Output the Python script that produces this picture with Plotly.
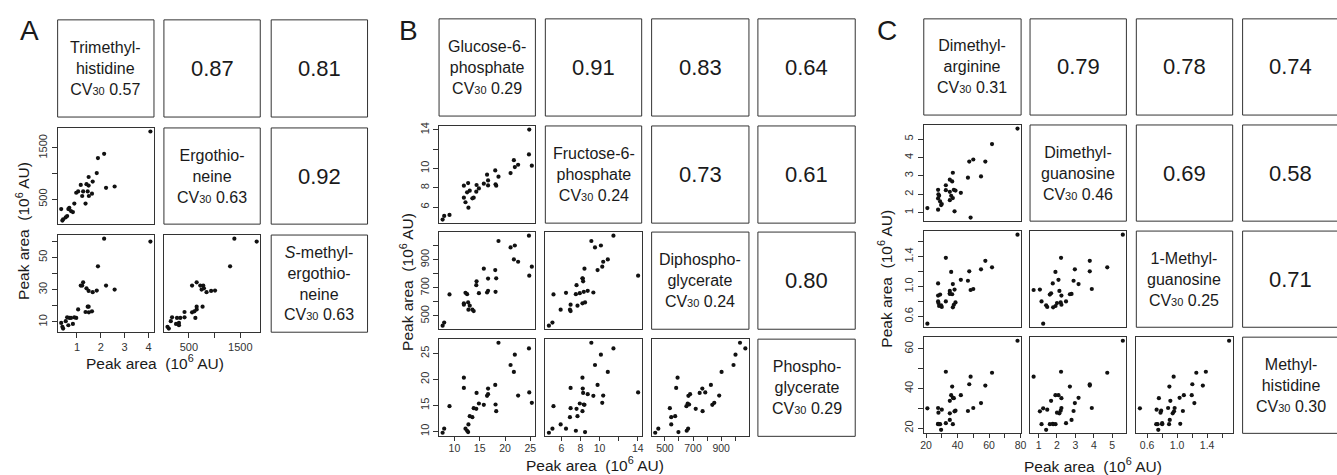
import plotly.graph_objects as go

W, H = 1337, 475
FONT = "Liberation Sans, Arial, Helvetica, sans-serif"
INK = "#1a1a1a"
LINE = "#333333"

# ---------------- Panel A data ----------------
trimethylhistidine = [4.08, 2.14, 1.88, 1.83, 1.49, 1.66, 1.16, 1.40, 1.49, 1.05, 0.97, 1.26, 1.45, 1.22, 1.50,
                      1.63, 2.22, 2.58, 1.36, 0.89, 0.68, 0.64, 0.34, 0.75, 0.83, 0.59, 0.53, 0.42, 0.39]
ergothioneine = [1819, 1385, 1302, 1009, 933, 844, 780, 793, 767, 652, 627, 652, 652, 563, 563,
                 608, 722, 748, 416, 416, 334, 308, 308, 270, 251, 174, 149, 111, 85]
s_methylergothioneine = [59.9, 61.7, 44.5, 29.5, 29.3, 28.5, 32.6, 30.9, 19.5, 17.8, 12.5, 34.6, 19.5, 32.6, 16.0,
                         16.6, 32.6, 30.1, 16.2, 12.9, 12.5, 8.0, 9.4, 12.5, 8.8, 12.9, 10.5, 5.9, 7.0]
a_names = ["Trimethyl-<br>histidine", "Ergothio-<br>neine", "<i>S</i>-methyl-<br>ergothio-<br>neine"]
a_cv = ["0.57", "0.63", "0.63"]
a_corr = [["", "0.87", "0.81"], ["", "", "0.92"], ["", "", ""]]
a_tickvals = [[1, 2, 3, 4], [500, 1500], [10, 30, 50]]
a_ticktext = [["1", "2", "3", "4"], ["500", "1500"], ["10", "30", "50"]]
a_minorvals = [[], [1000], [20, 40, 60]]

# ---------------- Panel B data ----------------
glucose_6_phosphate = [24.79, 24.73, 25.3, 21.75, 21.94, 22.59, 21.1, 18.07, 18.71, 18.13, 18.26, 16.45, 16.65, 16.65,
                       15.81, 14.38, 14.84, 14.32, 12.71, 11.87, 13.03, 12.51, 13.81, 13.55, 11.87, 12.19, 12.77,
                       9.03, 7.98, 7.67]
fructose_6_phosphate = [14.03, 11.45, 10.28, 10.86, 10.14, 10.38, 9.52, 9.79, 9.14, 8.35, 8.21, 9.35, 8.76, 8.24,
                        8.42, 8.28, 7.93, 7.59, 8.48, 8.21, 7.69, 7.52, 6.97, 6.9, 6.97, 6.49, 5.93, 5.18, 5.07, 4.7]
diphosphoglycerate = [787, 1072, 851, 903, 1002, 886, 988, 827, 1034, 672, 768, 667, 679, 766, 837, 747, 662, 719,
                      596, 590, 573, 655, 535, 545, 580, 665, 545, 653, 453, 431]
phosphoglycerate = [17.5, 25.97, 15.5, 21.44, 24.76, 16.9, 22.78, 18.95, 27.06, 15.18, 13.9, 16.84, 17.16, 18.24,
                    15.11, 17.41, 15.37, 14.35, 9.87, 20.35, 12.94, 10.13, 14.47, 12.75, 18.37, 10.52, 11.35, 14.86,
                    10.52, 9.75]
b_names = ["Glucose-6-<br>phosphate", "Fructose-6-<br>phosphate", "Diphospho-<br>glycerate", "Phospho-<br>glycerate"]
b_cv = ["0.29", "0.24", "0.24", "0.29"]
b_corr = [["", "0.91", "0.83", "0.64"], ["", "", "0.73", "0.61"], ["", "", "", "0.80"], ["", "", "", ""]]
b_tickvals = [[10, 15, 20, 25], [6, 8, 10, 14], [500, 700, 900], [10, 15, 20, 25]]
b_ticktext = [["10", "15", "20", "25"], ["6", "8", "10", "14"], ["500", "700", "900"], ["10", "15", "20", "25"]]
b_minorvals = [[], [12], [600, 800, 1000], []]

# ---------------- Panel C data ----------------
dimethylarginine = [78.07, 61.9, 47.44, 50.0, 57.65, 46.6, 54.9, 37.02, 35.1, 36.6, 32.57, 32.57, 37.66, 38.7, 42.1,
                    27.66, 27.87, 35.1, 35.96, 37.02, 35.1, 27.66, 28.93, 30.0, 20.85, 27.66, 38.1, 48.3, 29.57, 28.3]
dimethylguanosine = [5.575, 4.73, 3.78, 3.89, 3.78, 2.9, 2.97, 3.17, 2.79, 2.70, 2.49, 2.22, 2.24, 2.2, 2.08,
                     2.24, 2.0, 2.13, 1.915, 1.79, 1.68, 1.77, 1.61, 1.47, 1.25, 1.16, 1.07, 0.73, 1.41, 1.92]
methylguanosine_1 = [1.693, 1.256, 1.203, 0.967, 1.343, 1.077, 1.23, 1.033, 0.902, 0.897, 0.801, 1.383, 0.757, 0.788,
                     1.09, 0.88, 0.779, 0.941, 1.195, 0.722, 0.91, 1.042, 0.893, 0.727, 0.504, 0.801, 0.959, 0.954,
                     0.749, 0.74]
methylhistidine = [64.17, 48.0, 42.17, 30.17, 41.5, 28.67, 32.67, 35.33, 24.17, 41.0, 22.5, 48.5, 35.17, 28.83, 36.67,
                   30.17, 27.83, 27.5, 36.67, 22.0, 33.83, 22.17, 22.0, 29.33, 30.0, 22.0, 28.5, 46.0, 19.17, 22.0]
c_names = ["Dimethyl-<br>arginine", "Dimethyl-<br>guanosine", "1-Methyl-<br>guanosine", "Methyl-<br>histidine"]
c_cv = ["0.31", "0.46", "0.25", "0.30"]
c_corr = [["", "0.79", "0.78", "0.74"], ["", "", "0.69", "0.58"], ["", "", "", "0.71"], ["", "", "", ""]]
c_tickvals = [[20, 40, 60, 80], [1, 2, 3, 4, 5], [0.6, 1.0, 1.4], [20, 40, 60]]
c_ticktext = [["20", "40", "60", "80"], ["1", "2", "3", "4", "5"], ["0.6", "1.0", "1.4"], ["20", "40", "60"]]
c_minorvals = [[30, 50, 70], [], [0.8, 1.2, 1.6], [30, 50]]

# ---------------- layout geometry (pixels) ----------------
panels = [
    dict(letter="A", data=[trimethylhistidine, ergothioneine, s_methylergothioneine],
         names=a_names, cv=a_cv, corr=a_corr, tv=a_tickvals, tt=a_ticktext, mv=a_minorvals,
         cols=[(54, 151), (161, 258), (269, 366)], rows=[(16, 114), (125, 222), (233, 331)],
         letter_xy=(26, 27), xt=(152, 361), yt=(19, 229), xtick_len=5, xtick_off=0, xtick_size=11),
    dict(letter="B", data=[glucose_6_phosphate, fructose_6_phosphate, diphosphoglycerate, phosphoglycerate],
         names=b_names, cv=b_cv, corr=b_corr, tv=b_tickvals, tt=b_ticktext, mv=b_minorvals,
         cols=[(438, 535), (545, 642), (652, 750), (759, 857)],
         rows=[(15, 113), (123, 221), (230, 328), (338, 436)],
         letter_xy=(407, 27), xt=(595, 464), yt=(405, 280), xtick_len=4, xtick_off=-2, xtick_size=10.5),
    dict(letter="C", data=[dimethylarginine, dimethylguanosine, methylguanosine_1, methylhistidine],
         names=c_names, cv=c_cv, corr=c_corr, tv=c_tickvals, tt=c_ticktext, mv=c_minorvals,
         cols=[(926, 1024), (1033, 1130), (1140, 1237), (1247, 1344)],
         rows=[(15, 112), (122, 219), (229, 326), (336, 433)],
         letter_xy=(889, 27), xt=(1096, 465), yt=(887, 277), xtick_len=4, xtick_off=-2, xtick_size=10.5),
]


def px_x(v):
    return v / W


def px_y(v):
    return 1 - v / H


def padded(vals):
    lo, hi = min(vals), max(vals)
    r = hi - lo
    return [lo - 0.04 * r, hi + 0.04 * r]


fig = go.Figure()
layout = dict(width=W, height=H, margin=dict(l=0, r=0, t=0, b=0),
              paper_bgcolor="white", plot_bgcolor="white", showlegend=False,
              font=dict(family=FONT, color=INK))
shapes = []
annotations = []
k = 0
title_txt = "Peak area&nbsp; (10<sup>6</sup> AU)"


def axis_dict(domain, anchor, rng, show, tickvals, ticktext, minorvals, is_y, tlen=5, toff=0, tsize=11):
    d = dict(domain=domain, anchor=anchor, range=rng,
             showline=True, mirror=True, linecolor=LINE, linewidth=1,
             showgrid=False, zeroline=False, showticklabels=show,
             tickfont=dict(size=tsize, color="#333333", family=FONT))
    if show:
        d.update(ticks="outside", ticklen=tlen, tickcolor=LINE, tickwidth=1,
                 tickmode="array", tickvals=tickvals, ticktext=ticktext)
        if toff:
            d["ticklabelstandoff"] = toff
        if minorvals:
            d["minor"] = dict(ticks="outside", ticklen=tlen, tickcolor=LINE, tickwidth=1,
                              tickmode="array", tickvals=minorvals, showgrid=False)
    else:
        d.update(ticks="", tickmode="array", tickvals=[])
    if is_y:
        d["tickangle"] = -90
    return d


for p in panels:
    n = len(p["data"])
    for r in range(n):
        for c in range(n):
            x0, x1 = p["cols"][c]
            y0, y1 = p["rows"][r]
            if r > c:
                k += 1
                xa = "x" if k == 1 else f"x{k}"
                ya = "y" if k == 1 else f"y{k}"
                xkey = "xaxis" if k == 1 else f"xaxis{k}"
                ykey = "yaxis" if k == 1 else f"yaxis{k}"
                fig.add_trace(go.Scatter(x=p["data"][c], y=p["data"][r], mode="markers",
                                         xaxis=xa, yaxis=ya, hoverinfo="skip",
                                         marker=dict(size=4.2, color="#111111")))
                show_x = (r == n - 1)
                show_y = (c == 0)
                layout[xkey] = axis_dict([px_x(x0), px_x(x1)], ya, padded(p["data"][c]), show_x,
                                         p["tv"][c], p["tt"][c], p["mv"][c], False,
                                         p["xtick_len"], p["xtick_off"], p["xtick_size"])
                layout[ykey] = axis_dict([px_y(y1), px_y(y0)], xa, padded(p["data"][r]), show_y,
                                         p["tv"][r], p["tt"][r], p["mv"][r], True)
            else:
                shapes.append(dict(type="rect", xref="paper", yref="paper",
                                   x0=px_x(x0), x1=px_x(x1), y0=px_y(y1), y1=px_y(y0),
                                   line=dict(color=LINE, width=1), fillcolor="rgba(0,0,0,0)"))
                cx, cy = (x0 + x1) / 2, (y0 + y1) / 2
                if r == c:
                    txt = (p["names"][r] + "<br>CV<span style='font-size:11px'>30</span> " + p["cv"][r])
                    annotations.append(dict(x=px_x(cx), y=px_y(cy), xref="paper", yref="paper",
                                            text=txt, showarrow=False, align="center",
                                            xanchor="center", yanchor="middle",
                                            font=dict(size=16, color=INK, family=FONT)))
                else:
                    annotations.append(dict(x=px_x(cx), y=px_y(cy), xref="paper", yref="paper",
                                            text=p["corr"][r][c], showarrow=False,
                                            xanchor="center", yanchor="middle",
                                            font=dict(size=22, color=INK, family=FONT)))
    lx, ly = p["letter_xy"]
    annotations.append(dict(x=px_x(lx), y=px_y(ly), xref="paper", yref="paper", text=p["letter"],
                            showarrow=False, xanchor="center", yanchor="middle",
                            font=dict(size=28, color=INK, family=FONT)))
    tx, ty = p["xt"]
    annotations.append(dict(x=px_x(tx), y=px_y(ty), xref="paper", yref="paper", text=title_txt,
                            showarrow=False, xanchor="center", yanchor="middle",
                            font=dict(size=15.5, color=INK, family=FONT)))
    yx, yy = p["yt"]
    annotations.append(dict(x=px_x(yx), y=px_y(yy), xref="paper", yref="paper", text=title_txt,
                            showarrow=False, xanchor="center", yanchor="middle", textangle=-90,
                            font=dict(size=15.5, color=INK, family=FONT)))

layout["shapes"] = shapes
layout["annotations"] = annotations
fig.update_layout(**layout)
fig.write_html("out.html", config={"displayModeBar": False},
               post_script="document.body.style.margin='0';document.body.style.overflow='hidden';")
